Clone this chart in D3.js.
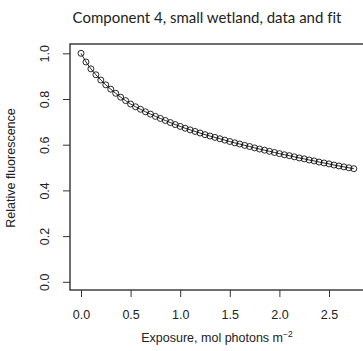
<!DOCTYPE html>
<html>
<head>
<meta charset="utf-8">
<script src="https://cdn.jsdelivr.net/npm/d3@7"></script>
<style>
  body { margin: 0; background: #fff; }
  svg { display: block; }
  .tick-label, .axis-title { font-family: "Liberation Sans", Arial, sans-serif; fill: #222; }
  .title { font-family: "Lato", "Open Sans", sans-serif; fill: #222; font-variant-ligatures: none; }
</style>
</head>
<body>
<svg id="chart"></svg>
<script>
// exposure, mol photons m^-2
const exposure = [
  0.00, 0.05, 0.10, 0.15, 0.20, 0.25, 0.30, 0.35, 0.40, 0.45,
  0.50, 0.55, 0.60, 0.65, 0.70, 0.75, 0.80, 0.85, 0.90, 0.95,
  1.00, 1.05, 1.10, 1.15, 1.20, 1.25, 1.30, 1.35, 1.40, 1.45,
  1.50, 1.55, 1.60, 1.65, 1.70, 1.75, 1.80, 1.85, 1.90, 1.95,
  2.00, 2.05, 2.10, 2.15, 2.20, 2.25, 2.30, 2.35, 2.40, 2.45,
  2.50, 2.55, 2.60, 2.65, 2.70, 2.75
];
// relative fluorescence (data, fit line runs through them)
const fluorescence = [
  1.000, 0.962, 0.932, 0.906, 0.883, 0.862, 0.843, 0.825, 0.808, 0.793,
  0.778, 0.766, 0.755, 0.744, 0.734, 0.724, 0.715, 0.706, 0.697, 0.688,
  0.680, 0.672, 0.665, 0.658, 0.651, 0.644, 0.638, 0.632, 0.626, 0.620,
  0.614, 0.608, 0.603, 0.597, 0.592, 0.586, 0.581, 0.576, 0.571, 0.566,
  0.561, 0.556, 0.552, 0.547, 0.542, 0.538, 0.533, 0.529, 0.524, 0.520,
  0.516, 0.511, 0.507, 0.503, 0.499, 0.495
];
const xTicks = [0, 0.5, 1.0, 1.5, 2.0, 2.5];
const yTicks = [0, 0.2, 0.4, 0.6, 0.8, 1.0];

const width = 363, height = 351;
const svg = d3.select("#chart").attr("width", width).attr("height", height);

// plot region (box is cut off at the right edge)
const box = { left: 70, top: 44, right: 372, bottom: 290 };

const x = d3.scaleLinear().domain([0, 2.5]).range([81, 329]);
const y = d3.scaleLinear().domain([0, 1]).range([281.8, 53.3]);

const data = exposure.map((e, i) => ({ x: e, y: fluorescence[i] }));

// box
svg.append("rect")
  .attr("x", box.left).attr("y", box.top)
  .attr("width", box.right - box.left).attr("height", box.bottom - box.top)
  .attr("fill", "none").attr("stroke", "#222").attr("stroke-width", 1.3);

// x axis
const xa = svg.append("g").attr("transform", `translate(0,${box.bottom})`);
xa.call(d3.axisBottom(x).tickValues(xTicks).tickSize(7).tickFormat(d3.format(".1f")));
xa.select(".domain").remove();
xa.selectAll("line").attr("stroke", "#333");
xa.selectAll("text").attr("class", "tick-label").attr("font-size", 12.5)
  .attr("fill", "#222").attr("dy", "1.5em");

// y axis
const ya = svg.append("g").attr("transform", `translate(${box.left},0)`);
ya.call(d3.axisLeft(y).tickValues(yTicks).tickSize(7).tickFormat(d3.format(".1f")));
ya.select(".domain").remove();
ya.selectAll("line").attr("stroke", "#333");
ya.selectAll("text").remove();
ya.selectAll(".tick").append("text")
  .attr("class", "tick-label")
  .attr("font-size", 12.5)
  .attr("text-anchor", "middle")
  .attr("transform", "translate(-25,0) rotate(-90)")
  .attr("dy", "0.35em")
  .text(d => d3.format(".1f")(d));
svg.selectAll(".tick text").style("font-family", "'Liberation Sans', Arial, sans-serif");

// fit line
svg.append("path")
  .datum(data)
  .attr("fill", "none")
  .attr("stroke", "#111")
  .attr("stroke-width", 0.9)
  .attr("d", d3.line().x(d => x(d.x)).y(d => y(d.y)));

// data points
svg.append("g").selectAll("circle")
  .data(data)
  .join("circle")
  .attr("cx", d => x(d.x))
  .attr("cy", d => y(d.y))
  .attr("r", 3)
  .attr("fill", "none")
  .attr("stroke", "#111")
  .attr("stroke-width", 0.9);

// titles
svg.append("text")
  .attr("class", "title")
  .attr("x", 207).attr("y", 23)
  .attr("text-anchor", "middle")
  .attr("font-size", 15)
  .text("Component 4, small wetland, data and fit");

const xt = svg.append("text")
  .attr("class", "axis-title")
  .attr("x", 217).attr("y", 342)
  .attr("text-anchor", "middle")
  .attr("font-size", 12.5);
xt.append("tspan").text("Exposure, mol photons m");
xt.append("tspan").attr("font-size", 8.5).attr("dy", -5).text("\u22122");

svg.append("text")
  .attr("class", "axis-title")
  .attr("transform", "translate(15,168) rotate(-90)")
  .attr("text-anchor", "middle")
  .attr("font-size", 12.5)
  .text("Relative fluorescence");
</script>
</body>
</html>
